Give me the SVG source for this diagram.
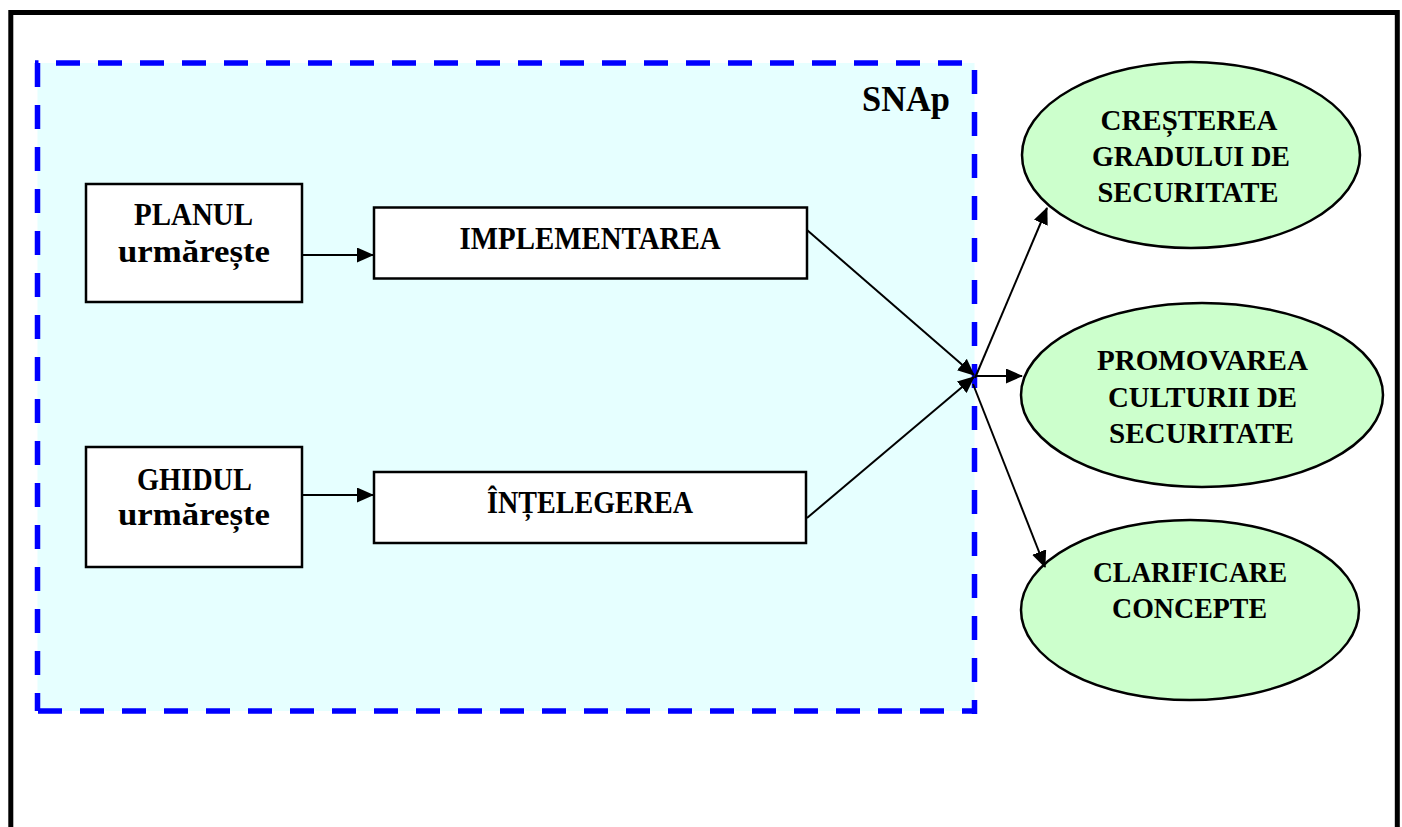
<svg xmlns="http://www.w3.org/2000/svg" width="1402" height="827" viewBox="0 0 1402 827">
<style>
.t{font-family:"Liberation Serif","Times New Roman",serif;font-weight:bold;fill:#000;text-anchor:middle}
.bx{font-size:31px}
.el{font-size:29px}
.box{fill:#fff;stroke:#000;stroke-width:2.5}
.ell{fill:#CCFFCC;stroke:#000;stroke-width:2.5}
.dash{stroke:#0000FF;stroke-width:5.5;stroke-dasharray:24 18;fill:none}
.con{stroke:#000;stroke-width:2;fill:none;marker-end:url(#ah)}
</style>
<defs>
<marker id="ah" markerWidth="17" markerHeight="15" refX="16" refY="7.5" orient="auto" markerUnits="userSpaceOnUse">
<path d="M0,0 L17,7.5 L0,15 Z" fill="#000"/>
</marker>
</defs>
<rect width="1402" height="827" fill="#fff"/>
<rect x="10.8" y="12.5" width="1386.5" height="900" fill="none" stroke="#000" stroke-width="5"/>
<g id="snap">
<rect x="37.5" y="63" width="937" height="648" fill="#E6FFFF"/>
<line class="dash" x1="56" y1="63" x2="977" y2="63"/>
<line class="dash" x1="37.5" y1="63" x2="37.5" y2="711"/>
<line class="dash" x1="38" y1="711" x2="977" y2="711"/>
<line class="dash" x1="974.5" y1="70" x2="974.5" y2="714"/>
<line class="dash" x1="35" y1="63" x2="38.5" y2="63" style="stroke-dasharray:none"/>
<text class="t" x="906" y="111" font-size="36" textLength="88" lengthAdjust="spacingAndGlyphs">SNAp</text>
</g>
<g id="planul">
<rect class="box" x="86" y="184" width="216" height="118"/>
<text class="t bx" x="193.5" y="225" textLength="119" lengthAdjust="spacingAndGlyphs">PLANUL</text>
<text class="t bx" x="194" y="262" textLength="152" lengthAdjust="spacingAndGlyphs">urmărește</text>
</g>
<g id="implementarea">
<rect class="box" x="374" y="207.5" width="433" height="71"/>
<text class="t bx" x="590" y="249" textLength="261" lengthAdjust="spacingAndGlyphs">IMPLEMENTAREA</text>
</g>
<g id="ghidul">
<rect class="box" x="86" y="447" width="216" height="120"/>
<text class="t bx" x="194.5" y="490" textLength="115" lengthAdjust="spacingAndGlyphs">GHIDUL</text>
<text class="t bx" x="194" y="525" textLength="152" lengthAdjust="spacingAndGlyphs">urmărește</text>
</g>
<g id="intelegerea">
<rect class="box" x="374" y="472" width="432" height="71"/>
<text class="t bx" x="590" y="513" textLength="206" lengthAdjust="spacingAndGlyphs">ÎNȚELEGEREA</text>
</g>
<g id="crestere">
<ellipse class="ell" cx="1191" cy="155" rx="169" ry="93"/>
<text class="t el" x="1189" y="130" textLength="177" lengthAdjust="spacingAndGlyphs">CREȘTEREA</text>
<text class="t el" x="1191" y="166" textLength="198" lengthAdjust="spacingAndGlyphs">GRADULUI DE</text>
<text class="t el" x="1188" y="202" textLength="181" lengthAdjust="spacingAndGlyphs">SECURITATE</text>
</g>
<g id="promovare">
<ellipse class="ell" cx="1202" cy="395" rx="181" ry="92"/>
<text class="t el" x="1202.5" y="370" textLength="211" lengthAdjust="spacingAndGlyphs">PROMOVAREA</text>
<text class="t el" x="1202.5" y="407" textLength="189" lengthAdjust="spacingAndGlyphs">CULTURII DE</text>
<text class="t el" x="1201.5" y="443" textLength="185" lengthAdjust="spacingAndGlyphs">SECURITATE</text>
</g>
<g id="clarificare">
<ellipse class="ell" cx="1190" cy="610" rx="169" ry="90"/>
<text class="t el" x="1190" y="582" textLength="194" lengthAdjust="spacingAndGlyphs">CLARIFICARE</text>
<text class="t el" x="1189.5" y="618" textLength="155" lengthAdjust="spacingAndGlyphs">CONCEPTE</text>
</g>
<g id="connectors">
<line class="con" x1="302" y1="255" x2="373" y2="255"/>
<line class="con" x1="302" y1="495" x2="373" y2="495"/>
<line class="con" x1="807" y1="230" x2="974" y2="375"/>
<line class="con" x1="807" y1="518" x2="974" y2="377"/>
<line class="con" x1="975" y1="378" x2="1047" y2="208"/>
<line class="con" x1="975" y1="376" x2="1022" y2="376"/>
<line class="con" x1="973" y1="384" x2="1045" y2="567"/>
</g>
</svg>
